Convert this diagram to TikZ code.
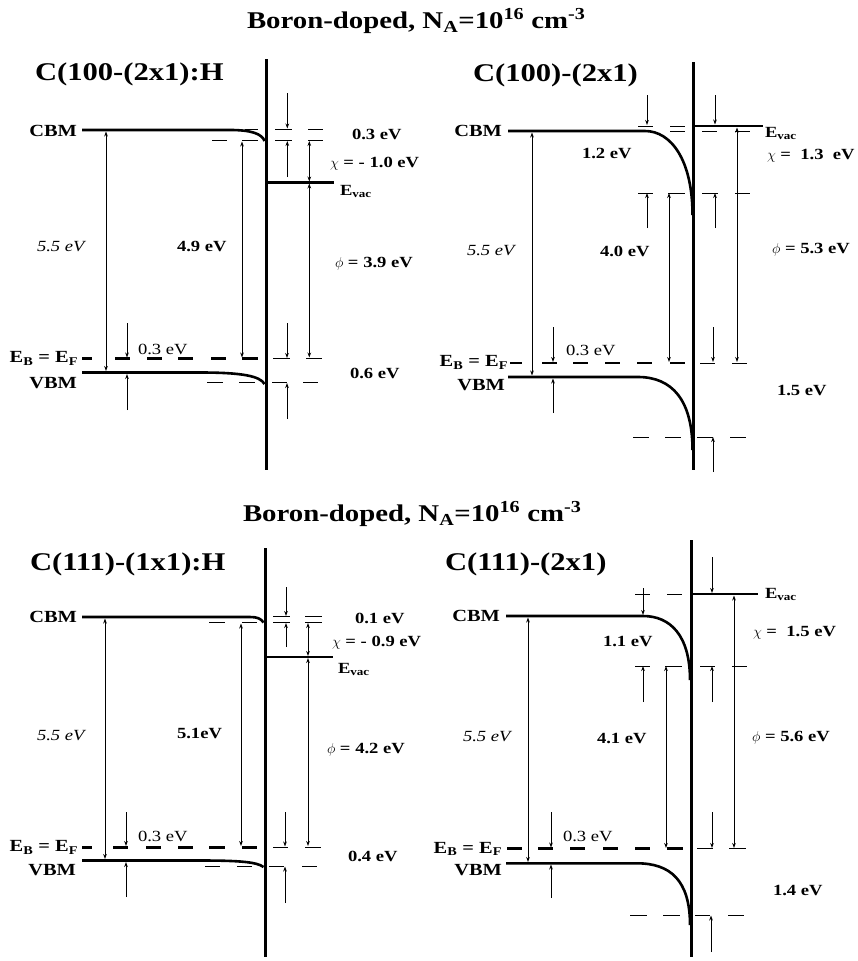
\documentclass[tikz,border=0pt]{standalone}
\usepackage{fontspec}
\setmainfont{Liberation Serif}[FakeStretch=1.2]
\usetikzlibrary{arrows.meta}

\begin{document}
\begin{tikzpicture}[
  x=1pt, y=-1pt,
  every node/.style={inner sep=0pt, outer sep=0pt},
  figtitle/.style={font=\fontsize{24}{26}\selectfont\bfseries, anchor=base west},
  surfname/.style={font=\fontsize{25.5}{27}\selectfont\bfseries, anchor=base west},
  val/.style={font=\fontsize{15.5}{17}\selectfont\bfseries, anchor=base west},
  valrm/.style={font=\fontsize{15.5}{17}\selectfont, anchor=base west},
  valit/.style={font=\fontsize{15.5}{17}\selectfont\itshape, anchor=base west},
  edge/.style={font=\fontsize{17}{19}\selectfont\bfseries, anchor=base east},
  band/.style={line width=2.6pt},
  wall/.style={line width=3pt},
  fermi/.style={line width=2.6pt},
  lvl/.style={line width=1pt},
  gap/.style={line width=0.9pt, {Stealth[length=5pt,width=3.6pt]}-{Stealth[length=5pt,width=3.6pt]}},
  tick/.style={line width=0.9pt, -{Stealth[length=5pt,width=3.6pt]}}
]
\useasboundingbox (0,0) rectangle (858,961);

\node[figtitle] (titleTop) at (247,28.3) {Boron-doped, N\textsubscript{A}=10\textsuperscript{16} cm\textsuperscript{-3}};
\node[figtitle] (titleBot) at (243,521.7) {Boron-doped, N\textsubscript{A}=10\textsuperscript{16} cm\textsuperscript{-3}};

% C(100)-(2x1):H
\node[surfname] (nameA) at (35,80.5) {C(100-(2x1):H};
\draw[wall] (266,59) -- (266,470);
\draw[band] (82,130) -- (230,130) .. controls (252,130) and (262,134) .. (264.5,141);
\draw[band] (82,372.5) -- (200,372.5) .. controls (242,372.5) and (260,376) .. (264.5,384);
\draw[band] (266,182.5) -- (334,182.5);
\foreach \a/\b in {82/92,115/130,147/162,178/193,211/226,242/258}
  \draw[fermi] (\a,358.5) -- (\b,358.5);
\foreach \a/\b in {273/290,306/322}
  \draw[lvl] (\a,358.5) -- (\b,358.5);
\foreach \a/\b in {245/258,275/292,308/323}
  \draw[lvl] (\a,129) -- (\b,129);
\foreach \a/\b in {212/227,242/258,275/292,308/323}
  \draw[lvl] (\a,140.5) -- (\b,140.5);
\foreach \a/\b in {207/223,239/255,272/287,303/318}
  \draw[lvl] (\a,382.5) -- (\b,382.5);
\draw[gap] (106,131.5) -- (106,371);
\draw[gap] (242,141.5) -- (242,357.5);
\draw[tick] (287.3,93) -- (287.3,128.5);
\draw[tick] (287.3,177) -- (287.3,141);
\draw[gap] (309.3,141) -- (309.3,181.5);
\draw[gap] (309.3,183.5) -- (309.3,357.5);
\draw[tick] (127,323) -- (127,357.5);
\draw[tick] (127,410) -- (127,374);
\draw[tick] (287,323) -- (287,358);
\draw[tick] (287,419) -- (287,383);
\node[edge] (cbmA) at (77,136) {CBM};
\node[edge] (efA) at (78,362.5) {E\textsubscript{B} = E\textsubscript{F}};
\node[edge] (vbmA) at (77,388) {VBM};
\node[valit] (egA) at (37,251) {5.5 eV};
\node[val] (cbefA) at (177,251) {4.9 eV};
\node[valrm] (efvbA) at (138,354) {0.3 eV};
\node[val] (bendA) at (352,139) {0.3 eV};
\node[val] (chiA) at (330,167) {$\chi$ = - 1.0 eV};
\node[val] (vacA) at (340,195) {E\textsubscript{vac}};
\node[val] (phiA) at (335,267) {$\phi$ = 3.9 eV};
\node[val] (efsA) at (350,378) {0.6 eV};

% C(100)-(2x1)
\node[surfname] (nameB) at (473,81) {C(100)-(2x1)};
\draw[wall] (693.5,62) -- (693.5,470);
\draw[band] (693.5,126) -- (763,126);
\draw[band] (508,131) -- (645,131) .. controls (671,131) and (692.5,160) .. (692.5,215);
\draw[band] (508,377) -- (638,377) .. controls (672,377) and (692.5,400) .. (692.5,450);
\foreach \a/\b in {510/522,542/557,573/588,605/620,637/652,670/685}
  \draw[fermi] (\a,363) -- (\b,363);
\foreach \a/\b in {700/715,732/747}
  \draw[lvl] (\a,363) -- (\b,363);
\foreach \a/\b in {638/653,670/685}
  \draw[lvl] (\a,126) -- (\b,126);
\foreach \a/\b in {670/685,702/717,735/750}
  \draw[lvl] (\a,131) -- (\b,131);
\foreach \a/\b in {638/653,668/685,702/718,735/750}
  \draw[lvl] (\a,193) -- (\b,193);
\foreach \a/\b in {633/649,665/681,697/713,730/746}
  \draw[lvl] (\a,437) -- (\b,437);
\draw[gap] (532,132.5) -- (532,375.5);
\draw[tick] (647,95) -- (647,125);
\draw[tick] (647,228) -- (647,193);
\draw[gap] (669,193) -- (669,362);
\draw[tick] (715,95) -- (715,124.5);
\draw[tick] (715,228) -- (715,193);
\draw[tick] (713,327) -- (713,362);
\draw[tick] (713,472) -- (713,437);
\draw[gap] (737,127.5) -- (737,362);
\draw[tick] (553,327) -- (553,362);
\draw[tick] (553,413) -- (553,378.5);
\node[edge] (cbmB) at (502,136.5) {CBM};
\node[edge] (efB) at (508,366.7) {E\textsubscript{B} = E\textsubscript{F}};
\node[edge] (vbmB) at (505,390) {VBM};
\node[val] (vacB) at (765,137) {E\textsubscript{vac}};
\node[val] (bendB) at (582,158.5) {1.2 eV};
\node[val] (chiB) at (767,159.5) {$\chi$ =\ \ 1.3\ \ eV};
\node[valit] (egB) at (467,255) {5.5 eV};
\node[val] (cbefB) at (600,256.7) {4.0 eV};
\node[val] (phiB) at (772,253.3) {$\phi$ = 5.3 eV};
\node[valrm] (efvbB) at (566,355) {0.3 eV};
\node[val] (efsB) at (777,395) {1.5 eV};

% C(111)-(1x1):H
\node[surfname] (nameC) at (30,570) {C(111)-(1x1):H};
\draw[wall] (265,548) -- (265,957);
\draw[band] (82,617) -- (250,617) .. controls (257,617) and (261,618.5) .. (263.5,622.5);
\draw[band] (82,860.5) -- (200,860.5) .. controls (240,860.5) and (257,862) .. (263.5,867);
\draw[band] (265,657) -- (333,657);
\foreach \a/\b in {82/92,113/128,146/161,178/193,209/225,242/257}
  \draw[fermi] (\a,847.3) -- (\b,847.3);
\foreach \a/\b in {273/288,305/321}
  \draw[lvl] (\a,847.3) -- (\b,847.3);
\foreach \a/\b in {273/290,305/322}
  \draw[lvl] (\a,616.5) -- (\b,616.5);
\foreach \a/\b in {209/225,242/257,273/290,305/322}
  \draw[lvl] (\a,622.5) -- (\b,622.5);
\foreach \a/\b in {205/220,237/252,269/284,302/317}
  \draw[lvl] (\a,866) -- (\b,866);
\draw[gap] (105,618.5) -- (105,859);
\draw[gap] (241,623.5) -- (241,846);
\draw[tick] (286,587) -- (286,616);
\draw[tick] (286,647) -- (286,623);
\draw[gap] (308,623) -- (308,656);
\draw[gap] (308,658) -- (308,846);
\draw[tick] (126,812) -- (126,846);
\draw[tick] (126,897) -- (126,862);
\draw[tick] (285,812) -- (285,846.5);
\draw[tick] (285,903) -- (285,866.5);
\node[edge] (cbmC) at (77,622.5) {CBM};
\node[edge] (efC) at (78,851.7) {E\textsubscript{B} = E\textsubscript{F}};
\node[edge] (vbmC) at (76,875) {VBM};
\node[val] (bendC) at (355,623) {0.1 eV};
\node[val] (chiC) at (332,646) {$\chi$ = - 0.9 eV};
\node[val] (vacC) at (338,673) {E\textsubscript{vac}};
\node[valit] (egC) at (37,740) {5.5 eV};
\node[val] (cbefC) at (177,738) {5.1eV};
\node[val] (phiC) at (327,753) {$\phi$ = 4.2 eV};
\node[valrm] (efvbC) at (138,841.7) {0.3 eV};
\node[val] (efsC) at (348,861.7) {0.4 eV};

% C(111)-(2x1)
\node[surfname] (nameD) at (445,570) {C(111)-(2x1)};
\draw[wall] (691,540) -- (691,957);
\draw[band] (691,594) -- (758,594);
\draw[band] (506,616) -- (643,616) .. controls (670,616) and (690,635) .. (690,680);
\draw[band] (506,863.3) -- (637,863.3) .. controls (670,863.3) and (690,880) .. (690,925);
\foreach \a/\b in {507/522,538/553,570/585,603/618,635/650,667/683}
  \draw[fermi] (\a,848.3) -- (\b,848.3);
\foreach \a/\b in {697/713,729/746}
  \draw[lvl] (\a,848.3) -- (\b,848.3);
\foreach \a/\b in {635/650,667/682}
  \draw[lvl] (\a,594) -- (\b,594);
\foreach \a/\b in {635/650,665/682,700/715,732/747}
  \draw[lvl] (\a,666) -- (\b,666);
\foreach \a/\b in {630/647,663/680,695/710,728/744}
  \draw[lvl] (\a,915.5) -- (\b,915.5);
\draw[gap] (528,617.5) -- (528,862);
\draw[tick] (643,588) -- (643,615);
\draw[tick] (643,702) -- (643,666);
\draw[gap] (666,666) -- (666,848);
\draw[tick] (712,557) -- (712,593);
\draw[tick] (712,702) -- (712,666);
\draw[tick] (712,812) -- (712,848);
\draw[tick] (711,952) -- (711,915.5);
\draw[gap] (734,595.5) -- (734,848);
\draw[tick] (551,812) -- (551,847.5);
\draw[tick] (551,898) -- (551,864.5);
\node[edge] (cbmD) at (500,621.7) {CBM};
\node[edge] (efD) at (502,853.3) {E\textsubscript{B} = E\textsubscript{F}};
\node[edge] (vbmD) at (502,875) {VBM};
\node[val] (vacD) at (765,598) {E\textsubscript{vac}};
\node[val] (chiD) at (753,636.7) {$\chi$ =\ \ 1.5 eV};
\node[val] (bendD) at (603,646.7) {1.1 eV};
\node[valit] (egD) at (463,741.7) {5.5 eV};
\node[val] (cbefD) at (597,743) {4.1 eV};
\node[val] (phiD) at (752,741.7) {$\phi$ = 5.6 eV};
\node[valrm] (efvbD) at (563,841.7) {0.3 eV};
\node[val] (efsD) at (773,895) {1.4 eV};
\end{tikzpicture}
\end{document}
